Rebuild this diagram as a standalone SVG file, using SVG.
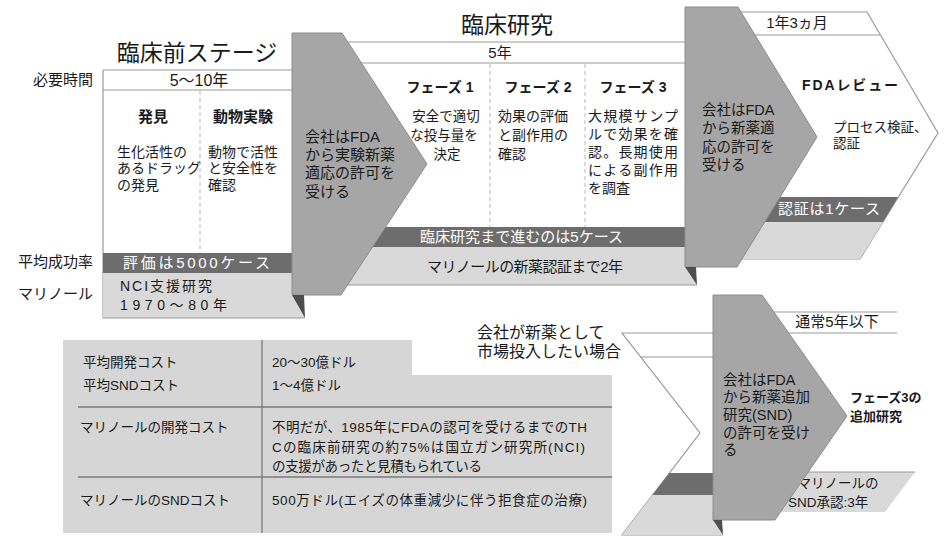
<svg xmlns="http://www.w3.org/2000/svg" width="949" height="549" viewBox="0 0 949 549">
<style>
text{font-family:"Liberation Sans","Noto Sans CJK JP",sans-serif;fill:#1a1a1a}
.ln{stroke:#9a9a9a;stroke-width:1.2;fill:none}
.dash{stroke:#c4c4c4;stroke-width:1.2;stroke-dasharray:4 3;fill:none}
.dk{fill:#6d6d6d}
.lt{fill:#d9d9d9}
.gr{fill:#a6a6a6;stroke:#8c8c8c;stroke-width:1}
.sh{fill:#4e4e4e}
.t15{font-size:15px}
.t14{font-size:14px}
.t145{font-size:14.5px}
.t13{font-size:13.5px}
.h{font-size:23px}
.b{font-weight:bold}
.mid{text-anchor:middle}
.end{text-anchor:end}
.tbl{fill:#d6d6d6}
.tl{stroke:#7a7a7a;stroke-width:1.3;fill:none}
.w{fill:#ffffff}
</style>

<!-- Preclinical stage -->
<g id="preclinical">
<rect x="103" y="70" width="200" height="203" fill="#ffffff"/>
<line class="ln" x1="103" y1="70" x2="300" y2="70"/>
<line class="ln" x1="103" y1="90" x2="300" y2="90"/>
<line class="ln" x1="103" y1="70" x2="103" y2="318"/>
<line class="dash" x1="200" y1="91" x2="200" y2="253"/>
<rect class="dk" x="103" y="253" width="200" height="20"/>
<polygon class="lt" points="103,273 292,273 292,295 305,318 103,318"/>
<line class="ln" x1="103" y1="318" x2="305" y2="318"/>
<text class="h mid" x="197" y="61">臨床前ステージ</text>
<text class="t15 end" x="93" y="85">必要時間</text>
<text class="mid" x="199" y="86" font-size="16">5〜10年</text>
<text class="t15 b mid" x="153" y="122">発見</text>
<text class="t15 b mid" x="243" y="122">動物実験</text>
<text class="t14" x="117" y="157">生化活性の</text>
<text class="t14" x="117" y="173">あるドラッグ</text>
<text class="t14" x="117" y="190">の発見</text>
<text class="t14" x="208" y="157">動物で活性</text>
<text class="t14" x="208" y="173">と安全性を</text>
<text class="t14" x="208" y="190">確認</text>
<text class="t15 w" x="123" y="268" textLength="147" lengthAdjust="spacing">評価は5000ケース</text>
<text class="t14" x="120" y="291" textLength="92" lengthAdjust="spacing">NCI支援研究</text>
<text class="t14" x="120" y="310" textLength="107" lengthAdjust="spacing">1970〜80年</text>
<text class="t15 end" x="93" y="267">平均成功率</text>
<text class="t15 end" x="93" y="299">マリノール</text>
</g>

<!-- Clinical research -->
<g id="clinical">
<rect x="330" y="42" width="357" height="185" fill="#ffffff"/>
<line class="ln" x1="330" y1="42" x2="687" y2="42"/>
<line class="ln" x1="330" y1="63" x2="687" y2="63"/>
<line class="dash" x1="490" y1="64" x2="490" y2="227"/>
<line class="dash" x1="585" y1="64" x2="585" y2="227"/>
<rect class="dk" x="330" y="227" width="357" height="20"/>
<polygon class="lt" points="330,247 685,247 685,267 697,285 330,285"/>
<line class="ln" x1="340" y1="285" x2="697" y2="285"/>
<text class="h mid" x="507" y="33">臨床研究</text>
<text class="t15 mid" x="500" y="58">5年</text>
<text class="t14 b mid" x="440" y="92">フェーズ 1</text>
<text class="t14 b mid" x="538" y="92">フェーズ 2</text>
<text class="t14 b mid" x="633" y="92">フェーズ 3</text>
<text class="t13 mid" x="446" y="121">安全で適切</text>
<text class="t13 mid" x="444" y="140">な投与量を</text>
<text class="t13 mid" x="447" y="159">決定</text>
<text class="t14" x="498" y="121">効果の評価</text>
<text class="t14" x="498" y="140">と副作用の</text>
<text class="t14" x="498" y="159">確認</text>
<text class="t14" x="588" y="121" textLength="90" lengthAdjust="spacing">大規模サンプ</text>
<text class="t14" x="588" y="139" textLength="90" lengthAdjust="spacing">ルで効果を確</text>
<text class="t14" x="588" y="157" textLength="90" lengthAdjust="spacing">認。長期使用</text>
<text class="t14" x="588" y="175" textLength="90" lengthAdjust="spacing">による副作用</text>
<text class="t14" x="588" y="193">を調査</text>
<text class="t15 w" x="420" y="242" textLength="203" lengthAdjust="spacing">臨床研究まで進むのは5ケース</text>
<text class="t15" x="427" y="272" textLength="196" lengthAdjust="spacing">マリノールの新薬認証まで2年</text>
</g>

<!-- FDA review -->
<g id="fda-review">
<polygon points="720,12 867,12 938,133 860,259 720,259" fill="#ffffff" stroke="#9a9a9a" stroke-width="1.2"/>
<line class="ln" x1="720" y1="35" x2="880.5" y2="35"/>
<polygon class="dk" points="720,197 898,197 883,222 720,222"/>
<polygon class="lt" points="720,222 883,222 860,259 720,259"/>
<text class="t15 mid" x="797" y="28">1年3ヵ月</text>
<text class="t14 b" x="802" y="90" textLength="96" lengthAdjust="spacing">FDAレビュー</text>
<text class="t13" x="833" y="132">プロセス検証、</text>
<text class="t13" x="833" y="148">認証</text>
<text class="t15 w" x="778" y="214" textLength="102" lengthAdjust="spacing">認証は1ケース</text>
</g>

<!-- Market chevron -->
<g id="market">
<polygon points="622,333 713,333 713,535 622,535 700,433" fill="#ffffff"/>
<polyline class="ln" points="713,333 622,333 700,433 622,535 723,535"/>
<line class="ln" x1="641" y1="357" x2="713" y2="357"/>
<polygon class="dk" points="669.4,473 713,473 713,495 652.6,495"/>
<polygon class="lt" points="652.6,495 713,495 713,520 723,535 622,535"/>
<text x="477" y="338" font-size="16">会社が新薬として</text>
<text x="477" y="357" font-size="16">市場投入したい場合</text>
</g>

<!-- SND result lines -->
<g id="snd-result">
<line class="ln" x1="760" y1="312" x2="897" y2="312"/>
<line class="ln" x1="760" y1="333" x2="897" y2="333"/>
<polygon class="lt" points="770,472 915,472 885,512 770,512"/>
<line class="ln" x1="770" y1="472" x2="915" y2="472"/>
<text class="t15 mid" x="837" y="327">通常5年以下</text>
<text class="t13 mid" x="838" y="488">マリノールの</text>
<text class="t13" x="788" y="507">SND承認:3年</text>
<text class="b" x="850" y="402" font-size="13px">フェーズ3の</text>
<text class="b" x="850" y="421" font-size="13px">追加研究</text>
</g>

<!-- Gray arrow: IND approval -->
<g id="arrow-ind">
<polygon class="gr" points="292,33 342,33 427,164 341,295 292,295"/>
<polygon class="sh" points="292,295 304,295 305,318"/>
<text class="t15" x="305" y="142">会社はFDA</text>
<text class="t15" x="305" y="160">から実験新薬</text>
<text class="t15" x="305" y="178">適応の許可を</text>
<text class="t15" x="305" y="197">受ける</text>
</g>

<!-- Gray arrow: NDA approval -->
<g id="arrow-nda">
<polygon class="gr" points="685,7 738,7 817,137 737,267 685,267"/>
<polygon class="sh" points="685,267 696,267 697,285"/>
<text class="t145" x="702" y="115">会社はFDA</text>
<text class="t145" x="702" y="133">から新薬適</text>
<text class="t145" x="702" y="152">応の許可を</text>
<text class="t145" x="702" y="170">受ける</text>
</g>

<!-- Gray arrow: SND approval -->
<g id="arrow-snd">
<polygon class="gr" points="713,295 762,295 847,416 775,520 713,520"/>
<polygon class="sh" points="713,520 722,520 723,535"/>
<text class="t145" x="723" y="385">会社はFDA</text>
<text class="t145" x="723" y="402">から新薬追加</text>
<text class="t145" x="723" y="420">研究(SND)</text>
<text class="t145" x="723" y="438">の許可を受け</text>
<text class="t145" x="723" y="455">る</text>
</g>

<!-- Cost table -->
<g id="cost-table">
<polygon class="tbl" points="63,340 412,340 412,375 612,375 612,533 63,533"/>
<line class="tl" x1="262" y1="340" x2="262" y2="533"/>
<line class="tl" x1="78" y1="407" x2="612" y2="407"/>
<line class="tl" x1="78" y1="477" x2="612" y2="477"/>
<text class="t13" x="83" y="367">平均開発コスト</text>
<text class="t13" x="83" y="390">平均SNDコスト</text>
<text class="t13" x="80" y="432">マリノールの開発コスト</text>
<text class="t13" x="80" y="505">マリノールのSNDコスト</text>
<text class="t13" x="272" y="367">20〜30億ドル</text>
<text class="t13" x="272" y="390">1〜4億ドル</text>
<text class="t13" x="272" y="432" textLength="315" lengthAdjust="spacing">不明だが、1985年にFDAの認可を受けるまでのTH</text>
<text class="t13" x="272" y="452" textLength="313" lengthAdjust="spacing">Cの臨床前研究の約75%は国立ガン研究所(NCI)</text>
<text class="t13" x="272" y="471" textLength="210" lengthAdjust="spacing">の支援があったと見積もられている</text>
<text class="t13" x="272" y="505" textLength="315" lengthAdjust="spacing">500万ドル(エイズの体重減少に伴う拒食症の治療)</text>
</g>

<g id="connectors"></g>
</svg>
